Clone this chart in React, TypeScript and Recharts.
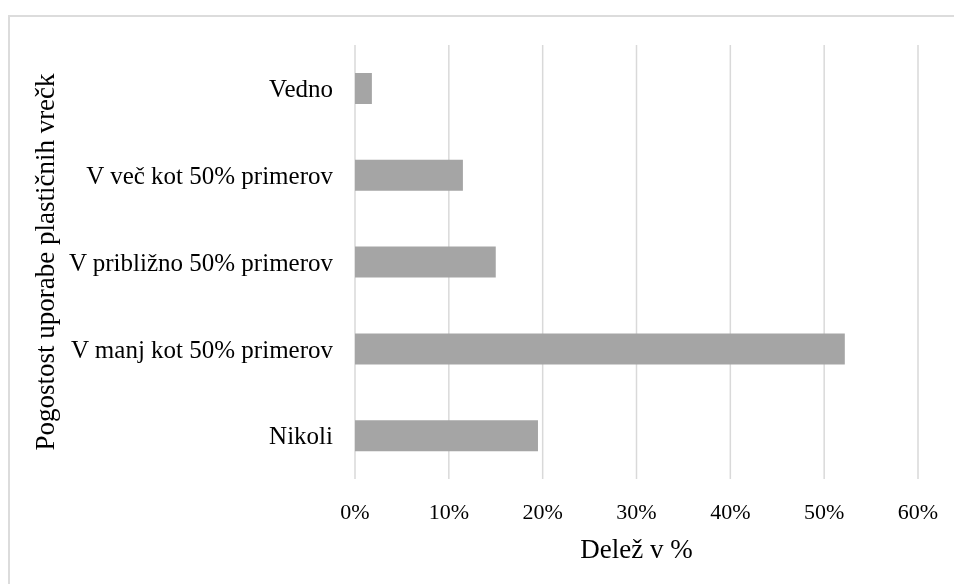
import React from 'react';
import { BarChart, Bar, XAxis, YAxis, CartesianGrid, Label } from 'recharts';

const categories = [
  'Vedno',
  'V več kot 50% primerov',
  'V približno 50% primerov',
  'V manj kot 50% primerov',
  'Nikoli',
];
const shares = [1.8, 11.5, 15.0, 52.2, 19.5];
const xTicks = [0, 10, 20, 30, 40, 50, 60];
const xTitle = 'Delež v %';
const yTitle = 'Pogostost uporabe plastičnih vrečk';

const data = categories.map((name, i) => ({ name, value: shares[i] }));

const FONT = 'Liberation Serif';

export default function App() {
  return (
    <div style={{ position: 'relative', width: 946, height: 576, fontFamily: FONT }}>
      <div
        style={{
          position: 'fixed',
          left: 8,
          top: 15,
          width: 1200,
          height: 1200,
          border: '2px solid #dcdcdc',
          boxSizing: 'border-box',
        }}
      />
      <div style={{ position: 'absolute', left: 0, top: 0 }}>
        <BarChart
          width={946}
          height={576}
          data={data}
          layout="vertical"
          margin={{ top: 37, right: 36, bottom: 0, left: 0 }}
          barSize={31}
          style={{ fontFamily: FONT }}
        >
          <CartesianGrid horizontal={false} stroke="#d9d9d9" strokeWidth={1.5} />
          <XAxis
            type="number"
            domain={[0, 60]}
            ticks={xTicks}
            tickFormatter={(v: number) => `${v}%`}
            axisLine={false}
            tickLine={false}
            tickMargin={18}
            height={105}
            tick={{ fontSize: 22, fill: '#000', style: { fontFamily: FONT } }}
            interval={0}
          >
            <Label
              content={({ viewBox }: any) => (
                <text
                  x={viewBox.x + viewBox.width / 2}
                  y={541}
                  textAnchor="middle"
                  dominantBaseline="central"
                  style={{ fontFamily: FONT }}
                  fontSize={27}
                  fill="#000"
                >
                  {xTitle}
                </text>
              )}
            />
          </XAxis>
          <YAxis
            type="category"
            dataKey="name"
            width={347}
            axisLine={false}
            tickLine={false}
            tickMargin={16}
            tick={{ fontSize: 25, fill: '#000', style: { fontFamily: FONT } }}
            interval={0}
          >
            <Label
              content={({ viewBox }: any) => {
                const cx = 37;
                const cy = viewBox.y + viewBox.height / 2;
                return (
                  <text
                    x={cx}
                    y={cy}
                    transform={`rotate(-90, ${cx}, ${cy})`}
                    textAnchor="middle"
                    dominantBaseline="central"
                    style={{ fontFamily: FONT }}
                    fontSize={27}
                    fill="#000"
                  >
                    {yTitle}
                  </text>
                );
              }}
            />
          </YAxis>
          <Bar dataKey="value" fill="#a5a5a5" isAnimationActive={false} />
        </BarChart>
      </div>
    </div>
  );
}
